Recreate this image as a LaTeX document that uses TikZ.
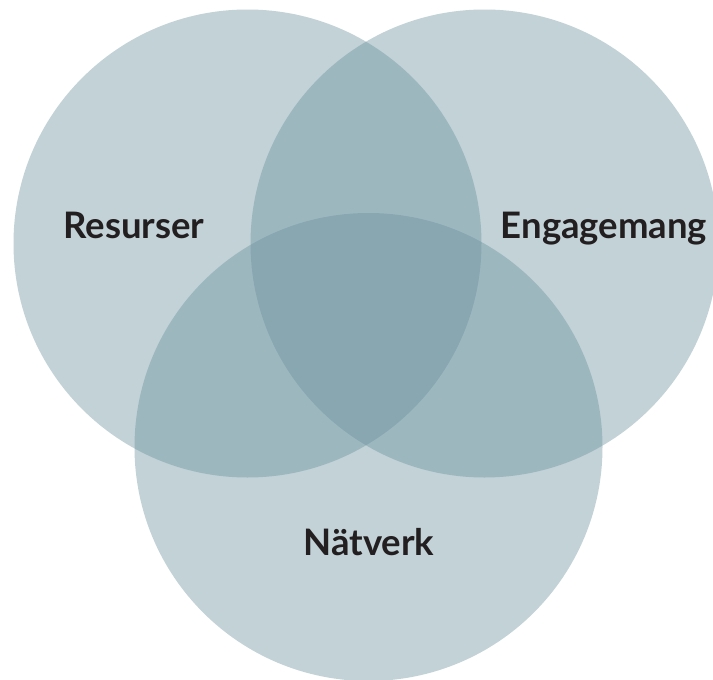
\documentclass[tikz,border=0pt]{standalone}
\usepackage{fontspec}
\setmainfont{Lato}
\definecolor{vennfill}{RGB}{106,145,157}
\definecolor{vennink}{RGB}{35,31,32}

\begin{document}
\begin{tikzpicture}[x=1pt, y=-1pt,
		set/.style={fill=vennfill, fill opacity=0.41},
		setname/.style={font=\bfseries\fontsize{36.5}{42}\selectfont, text=vennink, anchor=base}]
		\useasboundingbox (0,0) rectangle (713,680);

		\fill[set] (247.5,243.5) circle (234pt);
		\fill[set] (484.5,243.5) circle (234pt);
		\fill[set] (368.5,447) circle (234pt);

		\node[setname] (res) at (134,238) {Resurser};
		\node[setname] (eng) at (604,238) {Engagemang};
		\node[setname] (nat) at (369,555) {Nätverk};
	\end{tikzpicture}
\end{document}
